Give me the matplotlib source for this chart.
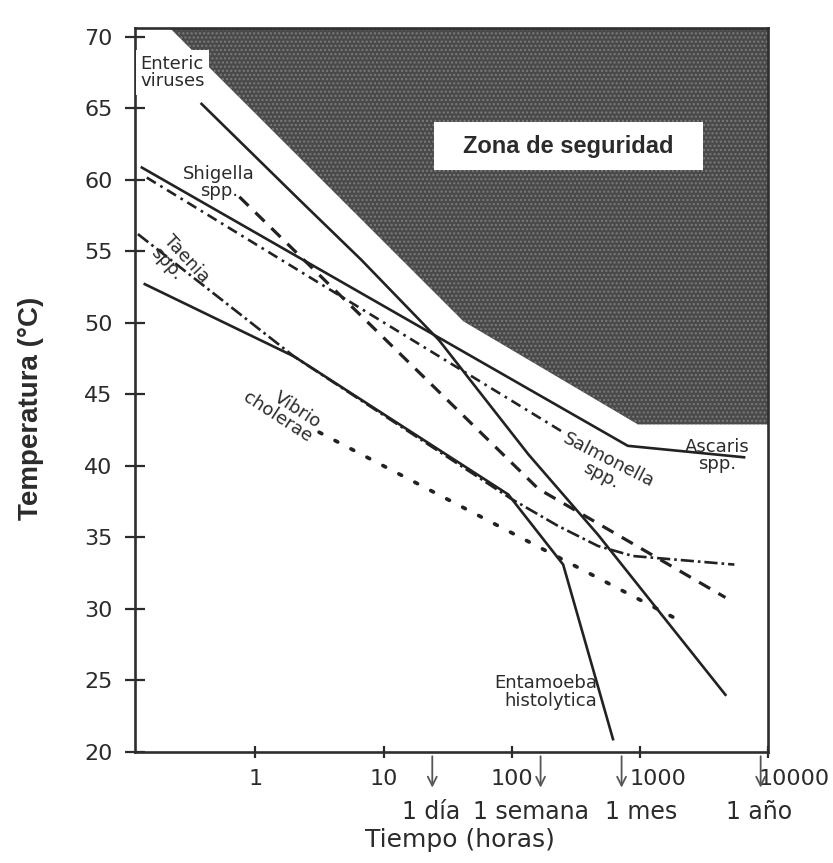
import numpy as np
import matplotlib
matplotlib.use("Agg")
import matplotlib.pyplot as plt
from matplotlib.patches import Rectangle
from matplotlib.transforms import ScaledTranslation

plt.rcParams['font.family'] = ['DejaVu Sans']
plt.rcParams['hatch.linewidth'] = 1.0

# safety zone boundary (hours, deg C)
zone_t = [0.215, 42, 964, 10000]
zone_T = [70.6, 50.1, 42.9, 42.9]

# pathogen curves (hours, deg C)
enteric_t = [0.38, 2.2, 6.7, 27, 135, 470, 4650]
enteric_T = [65.3, 58.6, 54.4, 48.8, 40.8, 35.2, 24.0]
ascaris_t = [0.13, 805, 6500]
ascaris_T = [60.85, 41.4, 40.6]
salmonella_t = [0.142, 252]
salmonella_T = [60.15, 42.35]
shigella_t = [0.75, 161, 4650]
shigella_T = [58.8, 38.4, 30.8]
taenia_t = [0.121, 2.0, 99, 230, 471, 881, 5460]
taenia_T = [56.2, 47.65, 37.7, 35.8, 34.4, 33.7, 33.1]
entamoeba_t = [0.137, 2.0, 94, 252, 617]
entamoeba_T = [52.7, 47.65, 38.0, 33.1, 20.9]
vibrio_t = [3.14, 2080]
vibrio_T = [42.35, 29.15]

xticks = [1, 10, 100, 1000, 10000]
xticklabels = ['1', '10', '100', '1000', '10000']
yticks = [20, 25, 30, 35, 40, 45, 50, 55, 60, 65, 70]

events_h = [24, 168, 720, 8760]
event_labels = ['1 día', '1 semana', '1 mes', '1 año']

ink = '#222222'
txt_c = '#2b2b2b'

fig = plt.figure(figsize=(8.33, 8.63), dpi=100)
ax = fig.add_axes([0.1621, 0.1286, 0.7599, 0.8389])
ax.set_xscale('log')
ax.set_xlim(0.115, 10000)
ax.set_ylim(20, 70.6)

# safety zone
ax.fill_between(zone_t, zone_T, 70.6, facecolor='#4a4a4a', edgecolor='#7c7c7c',
                hatch='....', linewidth=0, zorder=1)
ax.add_patch(Rectangle((0.472, 0.804), 0.425, 0.066, transform=ax.transAxes,
                       facecolor='white', edgecolor='none', zorder=2))
ax.text(0.684, 0.837, 'Zona de seguridad', transform=ax.transAxes, ha='center', va='center',
        fontsize=17, fontweight='bold', family='Liberation Sans', color=txt_c, zorder=3)

lw = 1.9
ax.plot(enteric_t, enteric_T, color=ink, lw=lw, zorder=4)
ax.plot(ascaris_t, ascaris_T, color=ink, lw=lw, zorder=4)
ax.plot(salmonella_t, salmonella_T, color=ink, lw=lw, dashes=(4, 2, 1, 2), zorder=4)
ax.plot(shigella_t, shigella_T, color=ink, lw=2.3, dashes=(4, 3), zorder=4)
ax.plot(taenia_t, taenia_T, color=ink, lw=lw, dashes=(5, 1.5, 1, 1.5), zorder=4)
ax.plot(entamoeba_t, entamoeba_T, color=ink, lw=lw, zorder=4)
ax.plot(vibrio_t, vibrio_T, color=ink, lw=2.7, dashes=(0.8, 4), dash_capstyle='round', zorder=4)

# curve labels
lab = dict(fontsize=13, color=txt_c, zorder=5)
ax.text(0.008, 0.963, 'Enteric\nviruses', transform=ax.transAxes, ha='left', va='top',
        linespacing=0.95, bbox=dict(boxstyle='square,pad=0.25', fc='white', ec='none'), **lab)
ax.text(0.133, 0.787, 'Shigella\nspp.', transform=ax.transAxes, ha='center', va='center',
        linespacing=0.95, **lab)
ax.text(0.071, 0.673, 'Taenia\nspp.', transform=ax.transAxes, ha='center', va='center',
        rotation=-47, rotation_mode='anchor', multialignment='left', linespacing=0.95, **lab)
ax.text(0.232, 0.472, 'Vibrio\ncholerae', transform=ax.transAxes, ha='center', va='center',
        rotation=-33, rotation_mode='anchor', multialignment='right', linespacing=0.95, **lab)
ax.text(0.742, 0.392, 'Salmonella\nspp.', transform=ax.transAxes, ha='center', va='center',
        rotation=-27, rotation_mode='anchor', linespacing=0.95, **lab)
ax.text(0.920, 0.410, 'Ascaris\nspp.', transform=ax.transAxes, ha='center', va='center',
        linespacing=0.95, **lab)
ax.text(0.730, 0.083, 'Entamoeba\nhistolytica', transform=ax.transAxes, ha='right', va='center',
        multialignment='right', linespacing=0.95, **lab)

# axes styling
for s in ax.spines.values():
    s.set_color('#2e2e2e')
    s.set_linewidth(1.9)
ax.set_yticks(yticks)
ax.set_xticks(xticks)
ax.set_xticklabels(xticklabels)
ax.minorticks_off()
ax.tick_params(axis='y', direction='inout', length=14, width=1.6, pad=9,
               labelsize=16, colors=txt_c)
ax.tick_params(axis='x', direction='inout', length=8.5, width=1.6, pad=8,
               labelsize=16, colors=txt_c)
shifts = [0, 0, 0, 18, 26]
for lbl, dx in zip(ax.get_xticklabels(), shifts):
    lbl.set_transform(lbl.get_transform() + ScaledTranslation(dx / 100, 0, fig.dpi_scale_trans))

# time markers below the axis
trans = ax.get_xaxis_transform()
label_dx = [-1, -10, 20, -2]
for h, txt, dx in zip(events_h, event_labels, label_dx):
    ax.annotate('', xy=(h, -0.053), xytext=(h, -0.002), xycoords=trans,
                arrowprops=dict(arrowstyle='->', lw=1.3, color='#555555', mutation_scale=16),
                annotation_clip=False)
    ax.annotate(txt, xy=(h, -0.083), xycoords=trans, xytext=(dx, 0), textcoords='offset pixels',
                ha='center', va='center', fontsize=17, color=txt_c, annotation_clip=False)

fig.text(460 / 833, 1 - 840 / 863, 'Tiempo (horas)', ha='center', va='center',
         fontsize=18, color=txt_c)
fig.text(31 / 833, 1 - 408 / 863, 'Temperatura (°C)', rotation=90, ha='center', va='center',
         fontsize=20, fontweight='bold', family='Liberation Sans', color=txt_c)

fig.savefig('out.png', dpi=100)
